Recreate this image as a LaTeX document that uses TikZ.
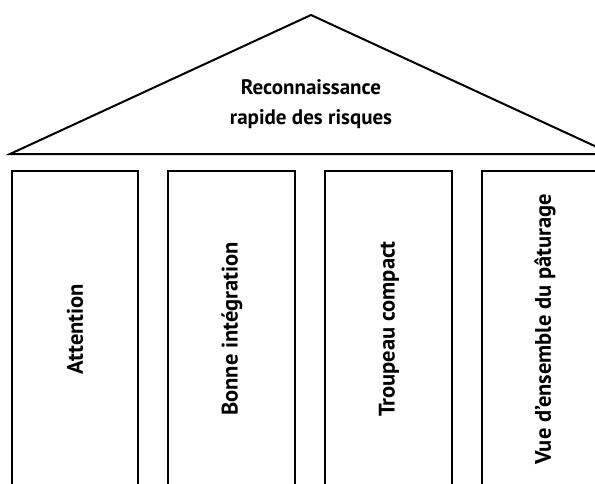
\documentclass[tikz,border=0pt]{standalone}
\usepackage{fontspec}
\setsansfont{PT Sans}
\begin{document}
\begin{tikzpicture}[x=1pt,y=-1pt,
    roofText/.style={font=\sffamily\bfseries\fontsize{21}{30}\selectfont, align=center},
    pillarText/.style={font=\sffamily\bfseries\fontsize{22.5}{26}\selectfont, rotate=90}]

        \useasboundingbox (0,0) rectangle (595,483);
        \clip (0,0) rectangle (595,483);

        % roof
        \draw[line width=2pt] (10,154) -- (311,15) -- (612,154) -- cycle;
        \node[roofText] (roof) at (311,104) {Reconnaissance\\rapide des risques};

        % pillars, open at the bottom
        \draw[line width=2pt] (12,490) -- (12,171) -- (138,171) -- (138,490);
        \draw[line width=2pt] (168,490) -- (168,171) -- (295,171) -- (295,490);
        \draw[line width=2pt] (325,490) -- (325,171) -- (452,171) -- (452,490);
        \draw[line width=2pt] (482,490) -- (482,171) -- (608,171) -- (608,490);

        \node[pillarText] (attention) at (75,329) {Attention};
        \node[pillarText] (integration) at (232,329) {Bonne intégration};
        \node[pillarText] (troupeau) at (389,329) {Troupeau compact};
        \node[pillarText] (paturage) at (545,329) {Vue d’ensemble du pâturage};

\end{tikzpicture}
\end{document}
